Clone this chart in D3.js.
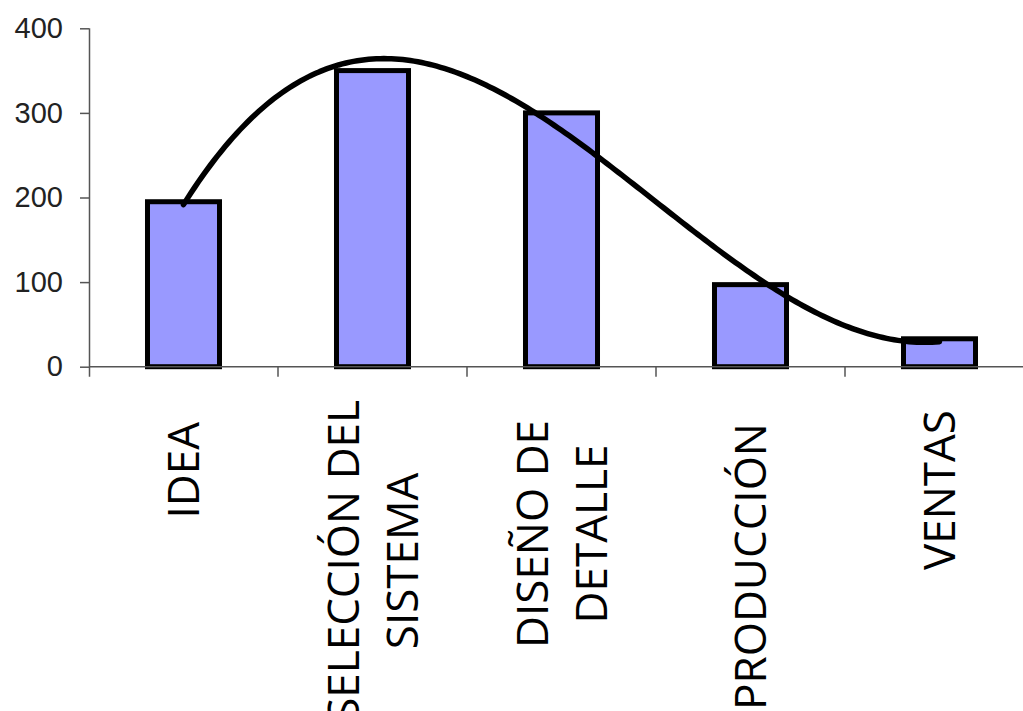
<!DOCTYPE html>
<html>
<head>
<meta charset="utf-8">
<script src="https://cdn.jsdelivr.net/npm/d3@7"></script>
<style>
  html, body { margin: 0; padding: 0; background: #fff; }
  svg { display: block; }
</style>
</head>
<body>
<svg id="chart" width="1023" height="711"></svg>
<script>
// ---- Data ----
const categories = ["IDEA", "SELECCIÓN DEL SISTEMA", "DISEÑO DE DETALLE", "PRODUCCIÓN", "VENTAS"];
const categoryLines = [["IDEA"], ["SELECCIÓN DEL", "SISTEMA"], ["DISEÑO DE", "DETALLE"], ["PRODUCCIÓN"], ["VENTAS"]];
const values = [195, 350, 300, 97, 33];
const yTicks = [0, 100, 200, 300, 400];
const trendOrder = 3; // polynomial trendline of the bar series

(function () {
// ---- Layout ----
const svg = d3.select("#chart");
const plotLeft = 89, plotTop = 28.3, plotBottom = 366.7, bandStep = 189;
const labelTops = [422, 400, 420, 423, 410]; // where each rotated label block begins (screen y)
const x = d3.scaleBand().domain(categories).range([plotLeft, plotLeft + bandStep * categories.length]).padding(0);
const y = d3.scaleLinear().domain([0, 400]).range([plotBottom, plotTop]);
const barW = x.bandwidth() * 0.381;

// ---- Bars ----
svg.append("g").selectAll("rect").data(values).join("rect")
  .attr("x", (d, i) => x(categories[i]) + x.bandwidth() / 2 - barW / 2)
  .attr("y", d => y(d))
  .attr("width", barW)
  .attr("height", d => y(0) - y(d))
  .attr("fill", "#9999ff")
  .attr("stroke", "#000")
  .attr("stroke-width", 5);

// ---- Polynomial (cubic) least-squares trendline, like the spreadsheet's ----
function polyFit(xs, ys, order) {
  const n = order + 1;
  const A = Array.from({length: n}, () => new Array(n + 1).fill(0));
  for (let r = 0; r < n; r++) {
    for (let c = 0; c < n; c++) A[r][c] = d3.sum(xs, xv => Math.pow(xv, r + c));
    A[r][n] = d3.sum(xs, (xv, i) => ys[i] * Math.pow(xv, r));
  }
  for (let i = 0; i < n; i++) {
    let p = i;
    for (let k = i + 1; k < n; k++) if (Math.abs(A[k][i]) > Math.abs(A[p][i])) p = k;
    [A[i], A[p]] = [A[p], A[i]];
    for (let k = i + 1; k < n; k++) {
      const f = A[k][i] / A[i][i];
      for (let c = i; c <= n; c++) A[k][c] -= f * A[i][c];
    }
  }
  const coef = new Array(n).fill(0);
  for (let i = n - 1; i >= 0; i--) {
    let s = A[i][n];
    for (let c = i + 1; c < n; c++) s -= A[i][c] * coef[c];
    coef[i] = s / A[i][i];
  }
  return coef;
}
const idx = values.map((d, i) => i + 1);
const coef = polyFit(idx, values, trendOrder);
const trend = t => coef.reduce((s, c, k) => s + c * Math.pow(t, k), 0);
const xIdx = d3.scaleLinear().domain([1, values.length])
  .range([x(categories[0]) + x.bandwidth() / 2, x(categories[categories.length - 1]) + x.bandwidth() / 2]);
const samples = d3.range(1, values.length + 0.0001, 0.02);
svg.append("path")
  .datum(samples)
  .attr("fill", "none")
  .attr("stroke", "#000")
  .attr("stroke-width", 5.5)
  .attr("stroke-linecap", "round")
  .attr("stroke-linejoin", "round")
  .attr("d", d3.line().x(t => xIdx(t)).y(t => y(trend(t))));

// ---- Y axis ----
const yAxis = svg.append("g").attr("transform", `translate(${plotLeft},0)`)
  .call(d3.axisLeft(y).tickValues(yTicks).tickSize(9).tickPadding(17).tickSizeOuter(0));
yAxis.select(".domain").attr("stroke", "#555").attr("stroke-width", 1.5)
  .attr("d", `M0.5,${plotTop}V${plotBottom + 10}`);
yAxis.selectAll(".tick line").attr("stroke", "#555").attr("stroke-width", 1.5);
yAxis.selectAll(".tick text")
  .attr("fill", "#222")
  .style("font-family", "'Liberation Sans', Arial, sans-serif")
  .style("font-size", "29px");

// ---- X axis (ticks at category boundaries) ----
const xAxisG = svg.append("g");
xAxisG.append("line")
  .attr("x1", plotLeft).attr("x2", 1023)
  .attr("y1", plotBottom).attr("y2", plotBottom)
  .attr("stroke", "#555").attr("stroke-width", 1.5);
xAxisG.selectAll("line.tk").data(categories.slice(1)).join("line")
  .attr("class", "tk")
  .attr("x1", d => x(d)).attr("x2", d => x(d))
  .attr("y1", plotBottom).attr("y2", plotBottom + 10)
  .attr("stroke", "#555").attr("stroke-width", 1.5);

// ---- Category labels (rotated, lines centered on each other) ----
const fontSize = 44, lineGap = 59;
const labelG = svg.append("g")
  .style("font-family", "'Open Sans', 'Noto Sans', sans-serif")
  .style("font-size", fontSize + "px")
  .attr("fill", "#000");
categoryLines.forEach((lines, i) => {
  const cx = x(categories[i]) + x.bandwidth() / 2;
  const g = labelG.append("g");
  const texts = lines.map(ln => g.append("text").text(ln).attr("text-anchor", "middle"));
  const maxLen = d3.max(texts, t => t.node().getComputedTextLength());
  const cy = labelTops[i] + maxLen / 2;
  texts.forEach((t, j) => {
    const off = (j - (lines.length - 1) / 2) * lineGap;
    t.attr("transform", `translate(${cx + off},${cy}) rotate(-90)`)
     .attr("y", fontSize * 0.357);
  });
});
})();
</script>
</body>
</html>
